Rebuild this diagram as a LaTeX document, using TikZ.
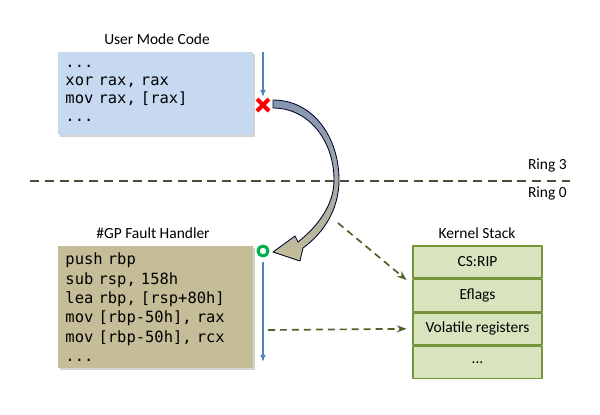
\documentclass[tikz,border=0pt]{standalone}
\usepackage{fontspec}
\setmainfont{Carlito}
\setmonofont{DejaVu Sans Mono}
\usetikzlibrary{positioning,shadows,arrows.meta}
\definecolor{usrblue}{HTML}{C6D9F1}
\definecolor{gptan}{HTML}{C4BD97}
\definecolor{stkfill}{HTML}{D7E4BD}
\definecolor{stkline}{HTML}{77933C}
\definecolor{dashgreen}{HTML}{4F6228}
\definecolor{flowblue}{HTML}{4F81BD}
\definecolor{ringline}{HTML}{4D4D36}
\definecolor{arcblue}{HTML}{8497B0}
\definecolor{okgreen}{HTML}{00B050}
\tikzset{
  codebox/.style={rectangle,anchor=north west,text width=4.5cm,inner xsep=0.18cm,align=left,
    font=\ttfamily\fontsize{11}{12.8}\selectfont,drop shadow={shadow xshift=1.5pt,shadow yshift=-1.5pt,opacity=0.35}},
  caption/.style={font=\fontsize{11}{13}\selectfont,inner sep=0pt},
  stackrow/.style={draw=stkline,fill=stkfill,line width=1pt,minimum width=3.225cm,minimum height=0.8cm,
    font=\fontsize{11}{13}\selectfont,inner sep=0pt},
  flow/.style={draw=flowblue,line width=0.9pt,-{Latex[length=5pt,width=4pt]}},
  savearrow/.style={draw=dashgreen,line width=1.2pt,dash pattern=on 5pt off 3.5pt,-{Stealth[length=7pt,width=5pt]}}
}
\begin{document}
\begin{tikzpicture}[line cap=butt,line join=round,x=0.025cm,y=-0.025cm]
		\useasboundingbox (0,0) rectangle (600,415);
		% user mode side
		\node[codebox,fill=usrblue,minimum height=2.075cm] (usercode) at (58,52) {...\\xor rax, rax\\mov rax, [rax]\\...};
		\node[caption] (usertitle) at (157,39) {User Mode Code};
		\coordinate (ustart) at (263,52);
		\coordinate (ufault) at (263,97);
		\draw[flow] (ustart) -- (ufault);
		\draw[red,line width=3pt] (257,99) -- (269,111) (257,111) -- (269,99);
		% ring boundary
		\coordinate (ringL) at (30,181);
		\coordinate (ringR) at (570,181);
		\draw[ringline,line width=1.1pt,dash pattern=on 6.5pt off 4pt] (ringL) -- (ringR);
		\node[caption,anchor=east] (ring3) at (567,166) {Ring 3};
		\node[caption,anchor=east] (ring0) at (567,194) {Ring 0};
		% transfer to the kernel
		\path[top color=arcblue,bottom color=gptan,draw=black!80!blue,line width=0.6pt]
			(273,100) .. controls (313,100) and (339,137) .. (339,180)
			.. controls (339,208) and (325,232) .. (303,248)
			-- (300,261) -- (273,252) -- (295,236) -- (298,242)
			.. controls (318,226) and (334,205) .. (334,180)
			.. controls (334,141) and (309,108) .. (273,108) -- cycle;
		% kernel side
		\node[codebox,fill=gptan,minimum height=3.05cm,font=\ttfamily\fontsize{11}{13.8}\selectfont] (handler) at (58,246)
			{push rbp\\sub rsp, 158h\\lea rbp, [rsp+80h]\\mov [rbp-50h], rax\\mov [rbp-50h], rcx\\...};
		\node[caption] (handlertitle) at (153,233) {\#GP Fault Handler};
		\draw[okgreen,line width=2.2pt] (263,251) circle (5);
		\coordinate (kstart) at (263,262);
		\coordinate (kend) at (263,362);
		\draw[flow] (kstart) -- (kend);
		% kernel stack
		\node[caption] (stacktitle) at (477,233) {Kernel Stack};
		\node[stackrow] (csrip) at (477.5,262) {CS:RIP};
		\node[stackrow,below=0pt of csrip] (eflags) {Eflags};
		\node[stackrow,below=0pt of eflags] (volregs) {Volatile registers};
		\node[stackrow,below=0pt of volregs] (rest) {...};
		\coordinate (pushfrom) at (338,223);
		\coordinate (savefrom) at (268,330);
		\draw[savearrow] (pushfrom) -- ([xshift=-4pt,yshift=-1pt]csrip.south west);
		\draw[savearrow] (savefrom) -- ([xshift=-4pt]volregs.west);
\end{tikzpicture}
\end{document}
